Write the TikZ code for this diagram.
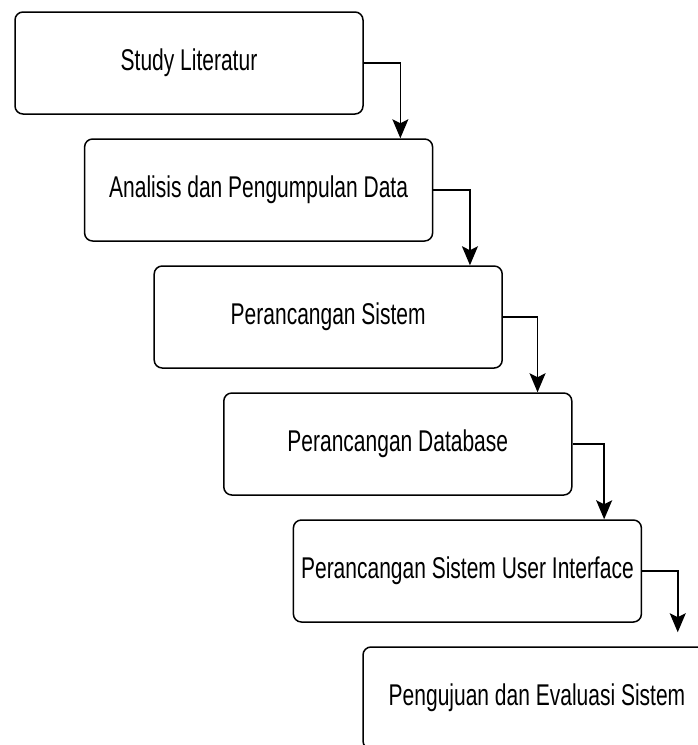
\documentclass[tikz,border=0pt]{standalone}
\usepackage{fontspec}
\setmainfont{Liberation Sans}[FakeStretch=0.70]
\usepackage{tikz}
\usetikzlibrary{arrows.meta}
\tikzstyle{stage}=[draw, rounded corners=8pt, line width=1.5pt, minimum width=348pt, minimum height=102pt, inner sep=0pt, font=\fontsize{30pt}{36pt}\selectfont]

\begin{document}
\begin{tikzpicture}[node distance=127pt,x=1pt,y=1pt,>={Stealth[width=16pt,length=19pt,inset=4pt]}]
      \useasboundingbox (0,0) rectangle (698,-745);
      \clip (0,0) rectangle (698,-745);
      \node [stage] (a) at (189,-63) {Study Literatur};
      \node [stage] (b) [below of=a, xshift=69.6pt] {Analisis dan Pengumpulan Data};
      \node [stage] (c) [below of=b, xshift=69.6pt] {Perancangan Sistem};
      \node [stage] (d) [below of=c, xshift=69.6pt] {Perancangan Database};
      \node [stage] (e) [below of=d, xshift=69.6pt] {Perancangan Sistem User Interface};
      \node [stage] (f) [below of=e, xshift=69.6pt] {Pengujuan dan Evaluasi Sistem};
      \coordinate (end) at ([xshift=-34pt,yshift=14pt]f.north east);

      \draw[->, line width=1.5pt] (a.east) -| ([xshift=-33pt]b.north east);
      \draw[->, line width=1.5pt] (b.east) -| ([xshift=-33pt]c.north east);
      \draw[->, line width=1.5pt] (c.east) -| ([xshift=-35pt]d.north east);
      \draw[->, line width=1.5pt] (d.east) -| ([xshift=-38pt]e.north east);
      \draw[->, line width=1.5pt] (e.east) -| (end);
  \end{tikzpicture}
\end{document}
